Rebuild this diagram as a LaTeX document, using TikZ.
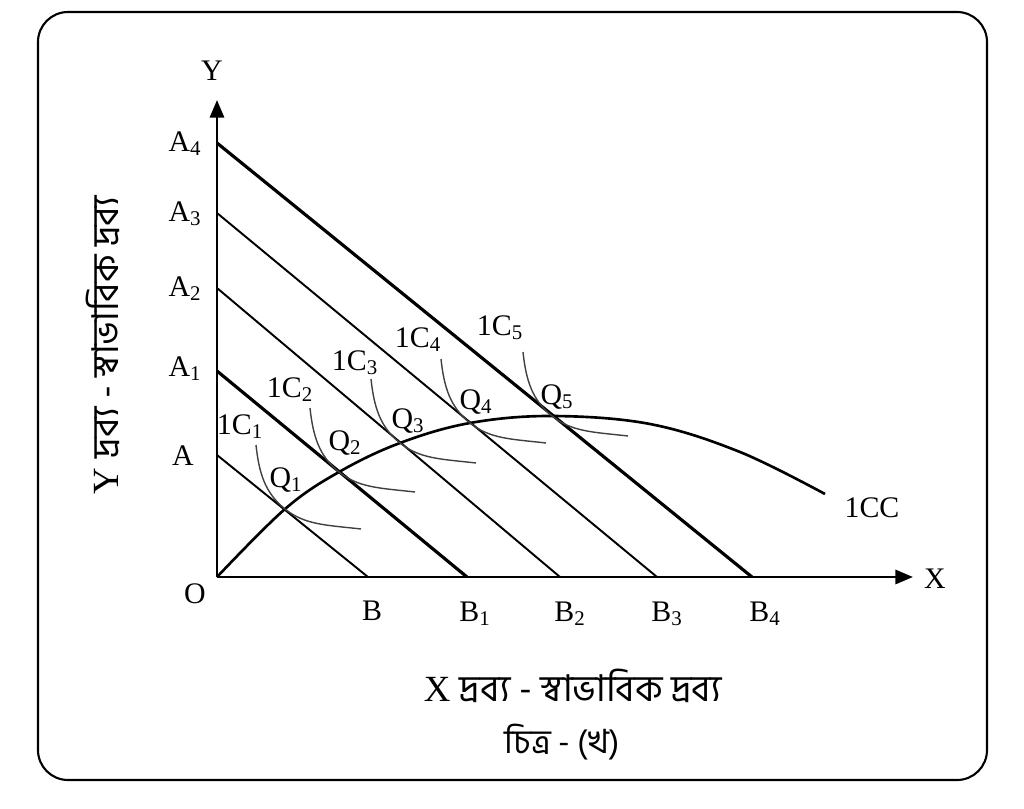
\documentclass[tikz,border=0pt]{standalone}
\usepackage{fontspec}
\setmainfont{Liberation Serif}
\newfontfamily\bnfont[Script=Bengali]{Hind Siliguri}
\usetikzlibrary{arrows.meta,calc}
\tikzset{
  % outer frame
  frame/.style={draw, line width=1.2pt, rounded corners=0.6cm},
  % axes with filled tips
  axis/.style={-{Triangle[length=10pt,width=8pt]}, line width=1.6pt},
  % budget lines
  budget/.style={line width=1.8pt},
  budgetthin/.style={line width=1.1pt},
  % indifference curves
  iccurve/.style={line width=0.8pt, black!75},
  % income consumption curve
  icc/.style={line width=1.5pt},
  % labels
  lab/.style={font=\fontsize{17}{20}\selectfont, inner sep=0pt, anchor=base},
  bnlab/.style={font=\fontsize{21}{24}\selectfont, inner sep=0pt},
}
\begin{document}
\begin{tikzpicture}[x=0.02cm, y=-0.02cm]
  \useasboundingbox (0,0) rectangle (1024,808);
  % frame
  \draw[frame] (38,12) rectangle (987,780);

  % axes
  \coordinate (O) at (217,577);
  \coordinate (Ytip) at (217,100);
  \coordinate (Xtip) at (913,577);
  \draw[axis] (O) -- (Ytip);
  \draw[axis] (O) -- (Xtip);
  \node[lab] (labY) at (212,80) {Y};
  \node[lab] (labX) at (935,588) {X};
  \node[lab] (labO) at (195,603) {O};

  % intercepts on Y axis
  \coordinate (A)  at (217,455);
  \coordinate (A1) at (217,371);
  \coordinate (A2) at (217,288);
  \coordinate (A3) at (217,213);
  \coordinate (A4) at (217,143);
  % intercepts on X axis
  \coordinate (B)  at (368,577);
  \coordinate (B1) at (467,577);
  \coordinate (B2) at (560,577);
  \coordinate (B3) at (657,577);
  \coordinate (B4) at (752,577);

  % budget lines
  \draw[budgetthin] (A) -- (B);
  \draw[budget] (A1) -- (B1);
  \draw[budgetthin] (A2) -- (B2);
  \draw[budgetthin] (A3) -- (B3);
  \draw[budget] (A4) -- (B4);

  \node[lab] (labA)  at (183,465) {A};
  \node[lab] (labA1) at (185,376) {A\textsubscript{1}};
  \node[lab] (labA2) at (185,296) {A\textsubscript{2}};
  \node[lab] (labA3) at (185,221) {A\textsubscript{3}};
  \node[lab] (labA4) at (185,151) {A\textsubscript{4}};
  \node[lab] (labB)  at (372,620) {B};
  \node[lab] (labB1) at (475,621) {B\textsubscript{1}};
  \node[lab] (labB2) at (570,621) {B\textsubscript{2}};
  \node[lab] (labB3) at (667,621) {B\textsubscript{3}};
  \node[lab] (labB4) at (765,621) {B\textsubscript{4}};

  % equilibrium points
  \coordinate (Q1) at (285,509);
  \coordinate (Q2) at (339,472);
  \coordinate (Q3) at (400,443);
  \coordinate (Q4) at (470,423);
  \coordinate (Q5) at (552,416);
  \coordinate (ICCend) at (825,494);

  % income consumption curve
  \draw[icc] plot[smooth, tension=0.6] coordinates
    {(O) (Q1) (Q2) (Q3) (Q4) (Q5) (650,424) (740,452) (ICCend)};
  \node[lab] (labICC) at (872,517) {1CC};

  % indifference curves touching the budget lines
  \foreach \q in {1,...,5} {
    \draw[iccurve] (Q\q) ++(-29,-64) .. controls +(3,28) and +(-20,-16) .. (Q\q)
      .. controls +(20,16) and +(-35,-4) .. ++(76,20);
  }

  \node[lab] (labIC1) at (240,434) {1C\textsubscript{1}};
  \node[lab] (labIC2) at (290,397) {1C\textsubscript{2}};
  \node[lab] (labIC3) at (355,370) {1C\textsubscript{3}};
  \node[lab] (labIC4) at (418,347) {1C\textsubscript{4}};
  \node[lab] (labIC5) at (500,335) {1C\textsubscript{5}};
  \node[lab] (labQ1) at (286,487) {Q\textsubscript{1}};
  \node[lab] (labQ2) at (345,450) {Q\textsubscript{2}};
  \node[lab] (labQ3) at (408,428) {Q\textsubscript{3}};
  \node[lab] (labQ4) at (476,409) {Q\textsubscript{4}};
  \node[lab] (labQ5) at (557,404) {Q\textsubscript{5}};

  % axis titles and caption
  \node[bnlab] (xtitle) at (573,686) {X {\bnfont দ্রব্য - স্বাভাবিক দ্রব্য}};
  \node[bnlab, font=\fontsize{19}{22}\selectfont] (caption) at (562,742) {\bnfont চিত্র - (খ)};
  \node[bnlab, rotate=90] (ytitle) at (103,345) {Y {\bnfont দ্রব্য - স্বাভাবিক দ্রব্য}};
\end{tikzpicture}
\end{document}
